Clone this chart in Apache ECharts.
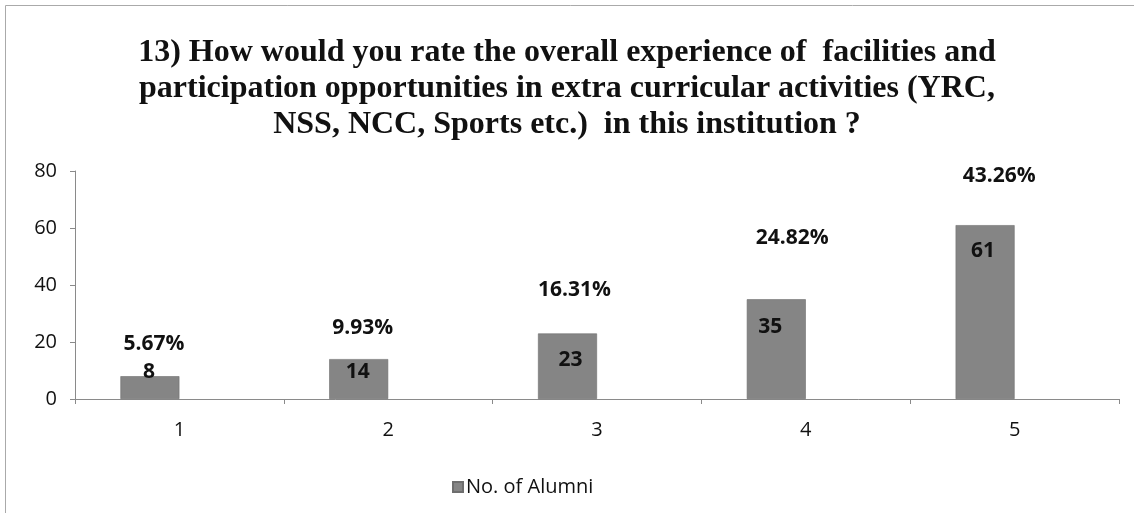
<!DOCTYPE html>
<html>
<head>
<meta charset="utf-8">
<script src="https://cdn.jsdelivr.net/npm/echarts@6/dist/echarts.min.js"></script>
<style>
  html, body { margin: 0; padding: 0; background: #fff; }
  #chart { width: 1134px; height: 513px; }
</style>
</head>
<body>
<div id="chart"></div>
<script>
// ---- data ----
var titleText = '13) How would you rate the overall experience of  facilities and\nparticipation opportunities in extra curricular activities (YRC,\nNSS, NCC, Sports etc.)  in this institution ?';
var categories = ['1', '2', '3', '4', '5'];
var alumniCounts = [8, 14, 23, 35, 61];
var percentages = [5.67, 9.93, 16.31, 24.82, 43.26];
var seriesName = 'No. of Alumni';
var yTicks = [0, 20, 40, 60, 80];

// ---- label placement (styles, not data) ----
var countLabelOffsets = [[-1, -20], [-1, -3], [3, 11], [-6, 12], [-2, 10]];
var pctLabelOffsets = [[-55, -55], [-55, -71], [-52, -109], [-43, -161], [-45, -222]];

var chart = echarts.init(document.getElementById('chart'), null, { renderer: 'canvas' });

var labelFont = '"Open Sans", "Liberation Sans", sans-serif';

var countData = alumniCounts.map(function (v, i) {
  return {
    value: v,
    label: { offset: countLabelOffsets[i] }
  };
});
var pctData = percentages.map(function (p, i) {
  return {
    value: p / 100,
    label: { offset: pctLabelOffsets[i] }
  };
});

var option = {
  animation: false,
  backgroundColor: '#ffffff',
  title: {
    text: titleText,
    left: 'center',
    top: 30,
    textStyle: {
      fontFamily: '"Liberation Serif", serif',
      fontWeight: 'bold',
      fontSize: 32,
      lineHeight: 36,
      color: '#111'
    }
  },
  graphic: [{
    type: 'rect',
    left: 3, top: 3,
    shape: { x: 0, y: 0, width: 1200, height: 600 },
    style: { fill: 'none', stroke: '#aaaaaa', lineWidth: 1 },
    silent: true
  }],
  legend: {
    data: [seriesName],
    left: 447,
    top: 472,
    itemWidth: 10,
    itemHeight: 10,
    icon: 'rect',
    textStyle: { fontFamily: labelFont, fontSize: 20, color: '#111', padding: [0, 0, 0, -2] }
  },
  grid: {
    left: 75,
    right: 15,
    top: 171,
    bottom: 114,
    containLabel: false
  },
  xAxis: {
    type: 'category',
    data: categories,
    boundaryGap: true,
    axisLine: { show: true, lineStyle: { color: '#8a8a8a', width: 1 } },
    axisTick: { show: true, alignWithLabel: false, length: 5, lineStyle: { color: '#8a8a8a' } },
    axisLabel: { margin: 21, fontFamily: labelFont, fontSize: 20, color: '#111' },
    splitLine: { show: false }
  },
  yAxis: {
    type: 'value',
    min: yTicks[0],
    max: yTicks[yTicks.length - 1],
    interval: yTicks[1] - yTicks[0],
    axisLine: { show: true, lineStyle: { color: '#8a8a8a', width: 1 } },
    axisTick: { show: true, length: 5, lineStyle: { color: '#8a8a8a' } },
    axisLabel: { margin: 18, fontFamily: labelFont, fontSize: 20, color: '#111' },
    splitLine: { show: false }
  },
  series: [
    {
      name: seriesName,
      type: 'bar',
      data: countData,
      barWidth: 59,
      barGap: '0%',
      itemStyle: { color: '#858585', borderColor: '#6e6e6e', borderWidth: 0.6 },
      label: {
        show: true,
        position: 'insideTop',
        fontFamily: labelFont,
        fontWeight: 'bold',
        fontSize: 21,
        color: '#111'
      }
    },
    {
      name: 'Percentage',
      type: 'bar',
      data: pctData,
      barWidth: 59,
      barGap: '0%',
      silent: true,
      itemStyle: { color: 'rgba(0,0,0,0)' },
      label: {
        show: true,
        position: 'inside',
        fontFamily: labelFont,
        fontWeight: 'bold',
        fontSize: 21,
        color: '#111',
        formatter: function (p) { return (p.value * 100).toFixed(2) + '%'; }
      }
    }
  ]
};

chart.setOption(option);
</script>
</body>
</html>
